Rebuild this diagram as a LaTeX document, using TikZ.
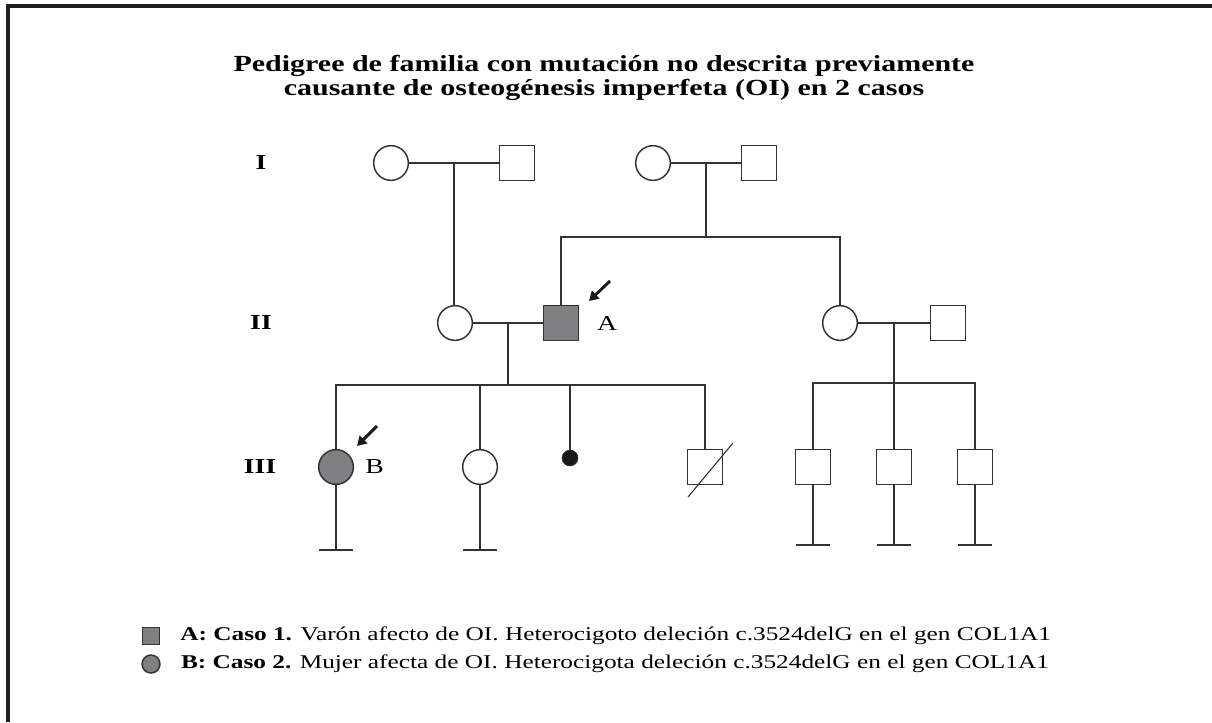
\documentclass[tikz,border=0pt]{standalone}
\usepackage{fontspec}
\setmainfont{Liberation Serif}[FakeStretch=1.3]
\usepackage{tikz}
\usetikzlibrary{positioning, calc, arrows.meta}
\definecolor{affected}{RGB}{128,128,130}
\definecolor{pedline}{RGB}{50,50,50}
\definecolor{framecolor}{RGB}{35,31,32}

\begin{document}
\begin{tikzpicture}[
    x=0.75pt, y=-0.75pt,
    female/.style={draw=pedline, circle, minimum size=26pt, inner sep=0pt, line width=1.1pt},
    male/.style={draw=pedline, rectangle, minimum size=26pt, inner sep=0pt, line width=1.1pt},
    affect/.style={fill=affected},
    miscarriage/.style={circle, fill=black!90, draw=pedline, minimum size=12pt, inner sep=0pt},
    link/.style={draw=pedline, line width=1.1pt},
    proband/.style={-{Triangle[length=7pt, width=8pt]}, line width=2.2pt, black!90},
    gen/.style={font=\fontsize{16}{16}\selectfont\bfseries},
    case/.style={font=\fontsize{16}{16}\selectfont},
    keytext/.style={font=\fontsize{14.6}{14.6}\selectfont, anchor=west, inner sep=0pt}
]
    \useasboundingbox (0,0) rectangle (1212,722);
    % Frame
    \draw[framecolor, line width=2.3pt] (8,722) -- (8,6) -- (1212,6);

    % Title
    \node[font=\fontsize{17.3}{17.5}\selectfont\bfseries, align=center] (title) at (604,78)
        {Pedigree de familia con mutación no descrita previamente\\
         causante de osteogénesis imperfeta (OI) en 2 casos};

    % Generations
    \node[gen] (genI) at (261,163) {I};
    \node[gen] (genII) at (261,323) {II};
    \node[gen] (genIII) at (260,467) {III};

    % Generation I
    \node[female] (fI1) at (391,163) {};
    \node[male] (mI1) at (517,163) {};
    \node[female] (fI2) at (653,163) {};
    \node[male] (mI2) at (759,163) {};

    % Generation II
    \node[female] (fII1) at (455,323) {};
    \node[male, affect] (mII1) at (561,323) {};
    \node[case, right=10pt of mII1] (labA) {A};
    \node[female] (fII2) at (840,323) {};
    \node[male] (mII2) at (948,323) {};

    % Generation III
    \node[female, affect] (fIII1) at (336,467) {};
    \node[case, right=5pt of fIII1] (labB) {B};
    \node[female] (fIII2) at (480,467) {};
    \node[miscarriage] (abort) at (570,458) {};
    \node[male] (dIII) at (705,467) {};
    \node[male] (mIII1) at (813,467) {};
    \node[male] (mIII2) at (894,467) {};
    \node[male] (mIII3) at (975,467) {};

    % Couples and sibships
    \draw[link] (fI1) -- (mI1);
    \coordinate (jI1) at ($(fI1)!0.5!(mI1)$);
    \draw[link] (jI1) -- (jI1 |- fII1.north);

    \draw[link] (fI2) -- (mI2);
    \coordinate (jI2) at ($(fI2)!0.5!(mI2)$);
    \coordinate (sI2) at ($(jI2)+(0,74)$);
    \draw[link] (jI2) -- (sI2);
    \draw[link] (mII1.north) |- (sI2) -| (fII2.north);

    \draw[link] (fII1) -- (mII1);
    \coordinate (jII1) at ($(fII1)!0.5!(mII1)$);
    \coordinate (sII1) at ($(jII1)+(0,62)$);
    \draw[link] (jII1) -- (sII1);
    \draw[link] (fIII1.north) |- (sII1) -| (dIII.north);
    \draw[link] (fIII2.north) -- (fIII2.north |- sII1);
    \draw[link] (abort.north) -- (abort.north |- sII1);

    \draw[link] (fII2) -- (mII2);
    \coordinate (jII2) at ($(fII2)!0.5!(mII2)$);
    \coordinate (sII2) at ($(jII2)+(0,60)$);
    \draw[link] (jII2) -- (sII2);
    \draw[link] (mIII1.north) |- (sII2) -| (mIII3.north);
    \draw[link] (mIII2.north) -- (mIII2.north |- sII2);

    % No offspring
    \foreach \n/\len in {fIII1/83, fIII2/83, mIII1/78, mIII2/78, mIII3/78} {
        \coordinate (\n-end) at ($(\n)+(0,\len)$);
        \draw[link] (\n.south) -- (\n-end);
        \draw[link] ($(\n-end)+(-17,0)$) -- ($(\n-end)+(17,0)$);
    }

    % Deceased
    \draw[pedline, line width=0.8pt] ($(dIII)+(-17,30)$) -- ($(dIII)+(28,-24)$);

    % Probands
    \draw[proband] ($(mII1)+(49,-42)$) -- ($(mII1)+(28,-22)$);
    \draw[proband] ($(fIII1)+(41,-41)$) -- ($(fIII1)+(21,-21)$);

    % Key
    \node[male, affect, minimum size=12.5pt] (keyA) at (151,636) {};
    \node[female, affect, minimum size=13.5pt] (keyB) at (151,664) {};
    \node[keytext, right=15pt of keyA.east, anchor=west] (txtA)
        {\textbf{A: Caso 1.} Varón afecto de OI. Heterocigoto deleción c.3524delG en el gen COL1A1};
    \node[keytext, right=15pt of keyB.east, anchor=west] (txtB)
        {\textbf{B: Caso 2.} Mujer afecta de OI. Heterocigota deleción c.3524delG en el gen COL1A1};
\end{tikzpicture}
\end{document}
